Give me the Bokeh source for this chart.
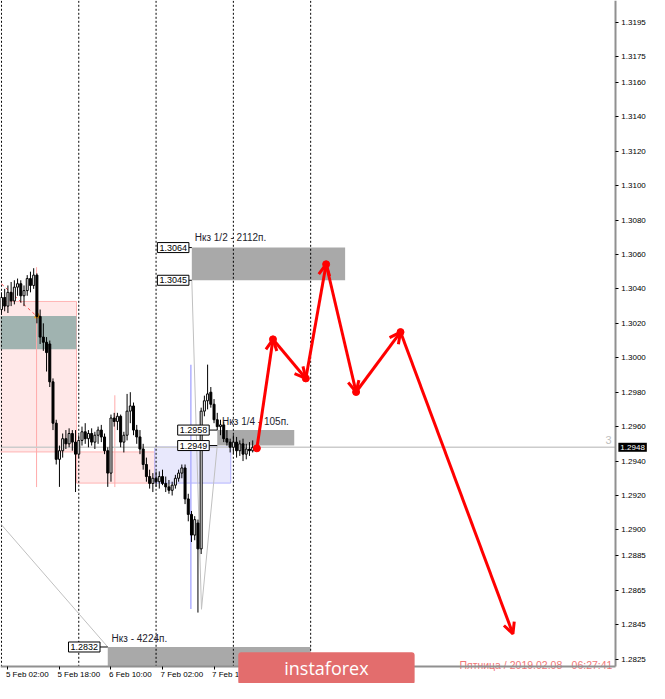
from bokeh.plotting import figure
from bokeh.models import (Range1d, FixedTicker, PrintfTickFormatter, ColumnDataSource,
                          Label, Arrow, OpenHead)
from bokeh.core.properties import value
from bokeh.embed import file_html
from bokeh.resources import INLINE

FONT = "Liberation Sans"

# ---------------- data (x = hours since 5 Feb 00:00, H1 candles) ----------------
opens = [1.3028, 1.3035, 1.3030, 1.3038, 1.3033, 1.3041, 1.3043, 1.3036, 1.3039, 1.3046,
         1.3042, 1.3048, 1.3024, 1.3012, 1.3009, 1.3008, 1.2986, 1.2962, 1.2941, 1.2946,
         1.2953, 1.2950, 1.2956, 1.2951, 1.2944, 1.2952, 1.2957, 1.2953, 1.2956, 1.2951,
         1.2955, 1.2958, 1.2954, 1.2946, 1.2933, 1.2965, 1.2963, 1.2966, 1.2951, 1.2955,
         1.2969, 1.2972, 1.2958, 1.2954, 1.2947, 1.2938, 1.2931, 1.2927, 1.2930, 1.2928,
         1.2931, 1.2927, 1.2925, 1.2923, 1.2926, 1.2930, 1.2933, 1.2936, 1.2918, 1.2909,
         1.2897, 1.2904, 1.2889, 1.2969, 1.2975, 1.2980, 1.2973, 1.2964, 1.2960, 1.2961,
         1.2953, 1.2951, 1.2948, 1.2951, 1.2946, 1.2950, 1.2944, 1.2947, 1.2946]
highs = [1.3038, 1.3040, 1.3042, 1.3044, 1.3045, 1.3046, 1.3045, 1.3042, 1.3048, 1.3050,
         1.3052, 1.3049, 1.3028, 1.3020, 1.3012, 1.3010, 1.2988, 1.2964, 1.2949, 1.2956,
         1.2958, 1.2959, 1.2958, 1.2958, 1.2955, 1.2960, 1.2962, 1.2958, 1.2959, 1.2957,
         1.2960, 1.2961, 1.2956, 1.2948, 1.2967, 1.2968, 1.2968, 1.2967, 1.2957, 1.2979,
         1.2980, 1.2974, 1.2961, 1.2958, 1.2950, 1.2942, 1.2935, 1.2933, 1.2934, 1.2934,
         1.2935, 1.2931, 1.2929, 1.2928, 1.2932, 1.2935, 1.2938, 1.2938, 1.2921, 1.2911,
         1.2908, 1.2906, 1.2971, 1.2978, 1.2996, 1.2983, 1.2976, 1.2968, 1.2964, 1.2963,
         1.2958, 1.2953, 1.2955, 1.2954, 1.2952, 1.2953, 1.2950, 1.2951, 1.2952]
lows = [1.3025, 1.3027, 1.3026, 1.3030, 1.3031, 1.3036, 1.3032, 1.3030, 1.3036, 1.3038,
        1.3040, 1.3020, 1.3008, 1.3004, 1.2992, 1.2983, 1.2958, 1.2938, 1.2925, 1.2942,
        1.2947, 1.2948, 1.2946, 1.2922, 1.2942, 1.2949, 1.2950, 1.2948, 1.2949, 1.2947,
        1.2950, 1.2951, 1.2944, 1.2925, 1.2928, 1.2960, 1.2958, 1.2948, 1.2945, 1.2952,
        1.2962, 1.2955, 1.2950, 1.2944, 1.2935, 1.2928, 1.2924, 1.2922, 1.2925, 1.2924,
        1.2926, 1.2922, 1.2921, 1.2920, 1.2924, 1.2928, 1.2930, 1.2915, 1.2905, 1.2893,
        1.2894, 1.2852, 1.2886, 1.2966, 1.2970, 1.2971, 1.2962, 1.2958, 1.2955, 1.2951,
        1.2949, 1.2945, 1.2944, 1.2942, 1.2943, 1.2940, 1.2941, 1.2943, 1.2945]
closes = [1.3035, 1.3030, 1.3038, 1.3033, 1.3041, 1.3043, 1.3036, 1.3039, 1.3046, 1.3042,
          1.3048, 1.3024, 1.3012, 1.3009, 1.3003, 1.2986, 1.2962, 1.2941, 1.2946, 1.2953,
          1.2950, 1.2956, 1.2951, 1.2944, 1.2952, 1.2957, 1.2953, 1.2956, 1.2951, 1.2955,
          1.2958, 1.2954, 1.2946, 1.2933, 1.2965, 1.2963, 1.2966, 1.2951, 1.2955, 1.2969,
          1.2972, 1.2958, 1.2954, 1.2947, 1.2938, 1.2931, 1.2927, 1.2930, 1.2928, 1.2931,
          1.2927, 1.2925, 1.2923, 1.2926, 1.2930, 1.2933, 1.2936, 1.2918, 1.2909, 1.2897,
          1.2906, 1.2889, 1.2969, 1.2975, 1.2979, 1.2973, 1.2964, 1.2960, 1.2961, 1.2953,
          1.2951, 1.2948, 1.2951, 1.2946, 1.2950, 1.2944, 1.2947, 1.2946, 1.2948]
hours = list(range(len(opens)))

x_tick_hours = [2, 18, 34, 50, 66]
x_tick_labels = ["5 Feb 02:00", "5 Feb 18:00", "6 Feb 10:00", "7 Feb 02:00", "7 Feb 18:00"]
y_ticks = [1.2825, 1.2845, 1.2865, 1.2885, 1.2900, 1.2920, 1.2940, 1.2960, 1.2980, 1.3000,
           1.3020, 1.3040, 1.3060, 1.3080, 1.3100, 1.3120, 1.3140, 1.3160, 1.3175, 1.3195]
day_separators = [0, 24, 48, 72, 96]
current_price = 1.2948

# zones
pink_left = [-1.0, 23.3]
pink_right = [23.3, 47.6]
pink_top = [1.30327, 1.29453]
pink_bottom = [1.29453, 1.29272]
teal_zone = dict(left=[-1.0], right=[23.3], top=[1.30242], bottom=[1.30049])
lav_zone = dict(left=[47.6], right=[71.2], top=[1.29482], bottom=[1.29272])
pink_vlines_x = [10.9, 35.2]
pink_vlines_top = [1.30526, 1.29782]
pink_vlines_bottom = [1.29249, 1.29249]
lav_vline = dict(x=[58.8], top=[1.2996], bottom=[1.2854])

# support/resistance levels
lvl_left = [59.1, 67.0, 33.0]
lvl_right = [106.7, 90.9, 96.0]
lvl_top = [1.3064, 1.2958, 1.2832]
lvl_bottom = [1.3045, 1.2949, 1.28205]
lvl_text = ["Нкз 1/2 - 2112п.", "Нкз 1/4 - 105п.", "Нкз - 4224п."]
lvl_text_x = [60.0, 68.5, 34.2]
lvl_text_y = [1.3070, 1.2963, 1.2837]

tag_price = [1.3064, 1.3045, 1.2958, 1.2949, 1.2832]
tag_text = ["1.3064", "1.3045", "1.2958", "1.2949", "1.2832"]
tag_right = [58.2, 58.2, 64.5, 64.5, 30.6]
tag_link = [59.1, 59.1, 67.0, 67.0, 33.0]

# thin grey trend lines
gl_x0 = [0.0, 59.1, 62.1]
gl_y0 = [1.2903, 1.3045, 1.28539]
gl_x1 = [33.0, 62.1, 67.0]
gl_y1 = [1.2832, 1.28539, 1.2949]

# forecast path
forecast_x = [79.3, 84.3, 94.5, 100.8, 110.1, 123.9, 158.8]
forecast_y = [1.29474, 1.30107, 1.29880, 1.30543, 1.29801, 1.30149, 1.28396]

# ---------------- figure ----------------
X0, X1 = -0.3, 201.2          # whole canvas width
Y0, Y1 = 1.28108, 1.32075     # whole canvas height
AX_X = 190.6                  # price scale position
AX_Y = 1.28205                # time scale position
LBL_Y = 1.28159               # time labels row

p = figure(width=649, height=683, output_backend="svg", toolbar_location=None,
           x_range=Range1d(X0, X1), y_range=Range1d(Y0, Y1),
           y_axis_location="right",
           min_border_left=0, min_border_top=0, min_border_right=0, min_border_bottom=0,
           background_fill_color="white", border_fill_color="white", outline_line_color=None)
p.grid.visible = False

p.xaxis.fixed_location = AX_Y
p.xaxis.bounds = (X0, AX_X)
p.xaxis.ticker = FixedTicker(ticks=x_tick_hours)
p.xaxis.major_label_text_color = None
p.xaxis.axis_line_color = "#909090"
p.xaxis.axis_line_width = 2
p.xaxis.major_tick_out = 3
p.xaxis.major_tick_in = 0
p.xaxis.major_tick_line_color = "black"
p.xaxis.minor_tick_line_color = None

p.yaxis.fixed_location = AX_X
p.yaxis.bounds = (AX_Y, Y1)
p.yaxis.ticker = FixedTicker(ticks=y_ticks)
p.yaxis.formatter = PrintfTickFormatter(format="%.4f")
p.yaxis.major_label_text_font = FONT
p.yaxis.major_label_text_font_size = "8px"
p.yaxis.major_label_text_color = "black"
p.yaxis.axis_line_color = "#909090"
p.yaxis.axis_line_width = 2
p.yaxis.major_tick_out = 3
p.yaxis.major_tick_in = 0
p.yaxis.major_tick_line_color = "black"
p.yaxis.minor_tick_line_color = None
p.yaxis.major_label_standoff = 3

# zones
p.quad(left=pink_left, right=pink_right, top=pink_top, bottom=pink_bottom,
       fill_color="#ffe8e8", line_color="#ffb4b4", line_width=1)
p.quad(source=ColumnDataSource(teal_zone), left="left", right="right", top="top", bottom="bottom",
       fill_color="#a0b3b0", line_color=None)
p.quad(source=ColumnDataSource(lav_zone), left="left", right="right", top="top", bottom="bottom",
       fill_color="#e8e8fc", line_color="#b4b4ff", line_width=1)
p.segment(x0=pink_vlines_x, y0=pink_vlines_bottom, x1=pink_vlines_x, y1=pink_vlines_top,
          line_color="#ffaaaa", line_width=1)
p.segment(x0=lav_vline["x"], y0=lav_vline["bottom"], x1=lav_vline["x"], y1=lav_vline["top"],
          line_color="#b0b0ff", line_width=1.5)
p.quad(left=lvl_left, right=lvl_right, top=lvl_top, bottom=lvl_bottom,
       fill_color="#a9a9a9", line_color=None)

# current price line
p.segment(x0=[X0], y0=[current_price], x1=[AX_X], y1=[current_price],
          line_color="#cccccc", line_width=1.5)

# day separators
p.segment(x0=day_separators, y0=[AX_Y] * len(day_separators),
          x1=day_separators, y1=[Y1] * len(day_separators),
          line_color="black", line_width=1, line_dash="2 2")

# red dashed line + marker on top-left
p.line(x=[0.0, 10.9], y=[1.30429, 1.30242], line_color="#ff5050", line_width=1, line_dash="3 3")
p.scatter(x=[11.2], y=[1.30242], marker="triangle", size=6, color="#f0a020")

# grey thin lines
p.segment(x0=gl_x0, y0=gl_y0, x1=gl_x1, y1=gl_y1, line_color="#c0c0c0", line_width=1)

# candles
src = ColumnDataSource(dict(
    x=hours, h=highs, l=lows,
    top=[max(o, c) for o, c in zip(opens, closes)],
    bottom=[min(o, c) for o, c in zip(opens, closes)],
    fill=["white" if c >= o else "black" for o, c in zip(opens, closes)],
))
p.segment(x0="x", y0="l", x1="x", y1="h", source=src, line_color="black", line_width=1)
p.vbar(x="x", width=0.62, top="top", bottom="bottom", source=src,
       fill_color="fill", line_color="black", line_width=1)

# level link lines and tags
p.segment(x0=tag_right, y0=tag_price, x1=tag_link, y1=tag_price, line_color="black", line_width=1)
for xr, yp, t in zip(tag_right, tag_price, tag_text):
    p.add_layout(Label(x=xr, y=yp, text=t, text_align="right", text_baseline="middle",
                       text_font=FONT, text_font_size="9px", text_color="black",
                       background_fill_color="white", border_line_color="black",
                       border_line_width=1, padding=2))

p.text(x=lvl_text_x, y=lvl_text_y, text=lvl_text, text_font=value(FONT),
       text_font_size="10px", text_color="#1e1e2e", text_baseline="middle", text_align="left")

# forecast arrows
asrc = ColumnDataSource(dict(x0=forecast_x[:-1], y0=forecast_y[:-1],
                             x1=forecast_x[1:], y1=forecast_y[1:]))
p.add_layout(Arrow(end=OpenHead(size=11, line_color="red", line_width=3),
                   x_start="x0", y_start="y0", x_end="x1", y_end="y1",
                   line_color="red", line_width=3, source=asrc))
p.scatter(x=forecast_x[:-1], y=forecast_y[:-1], size=7, color="red")

# "3" near price line and timestamp
p.text(x=[189.4], y=[current_price + 0.00045], text=["3"], text_font=value(FONT),
       text_font_size="11px", text_color="#c0c0c0", text_align="right", text_baseline="middle")
p.text(x=[189.7], y=[1.28218], text=["Пятница / 2019.02.08 - 06:27:41"], text_font=value(FONT),
       text_font_size="10.5px", text_color="#f07878", text_align="right", text_baseline="alphabetic")

# time labels, left aligned like the terminal
p.text(x=x_tick_hours, y=[LBL_Y] * len(x_tick_hours), text=x_tick_labels, x_offset=-2,
       text_font=value(FONT), text_font_size="8px", text_color="black",
       text_align="left", text_baseline="middle")

# price tag on the scale
p.add_layout(Label(x=AX_X, y=current_price, x_offset=3, text="1.2948", text_align="left",
                   text_baseline="middle", text_font=FONT, text_font_size="8px",
                   text_color="white", background_fill_color="black", padding=2))

# logo
p.add_layout(Label(x=100.9, y=1.28196, y_offset=0, text="instaforex",
                   text_align="center", text_baseline="middle", text_font="Open Sans",
                   text_font_size="18px", text_color="white",
                   background_fill_color="#e36d6d", padding=dict(x=46, y=4), border_radius=3))

open("out.html", "w").write(file_html(p, INLINE))
